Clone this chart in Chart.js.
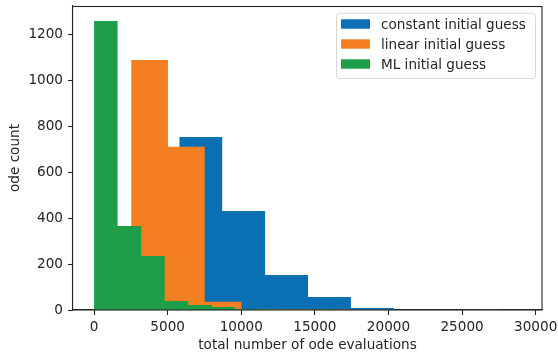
<!DOCTYPE html>
<html>
<head>
<meta charset="utf-8">
<script src="https://cdn.jsdelivr.net/npm/chart.js@4/dist/chart.umd.min.js"></script>
<style>
  html, body { margin: 0; padding: 0; background: #fff; }
  #wrap { width: 558px; height: 356px; }
</style>
</head>
<body>
<div id="wrap"><canvas id="c" width="558" height="356"></canvas></div>
<script>
// ---- data ----
const seriesLabels = ["constant initial guess", "linear initial guess", "ML initial guess"];

// bin edges (total number of ode evaluations)
const constantEdges = [5790, 8705, 11620, 14535, 17450, 20365, 23280, 26195, 29110];
const linearEdges   = [2520, 5020, 7520, 10020, 12520, 15020, 17520, 20020, 22520, 25020, 27520];
const mlEdges       = [0, 1600, 3200, 4800, 6400, 8000, 9600, 11200, 12800, 14400, 16000];

// counts per bin
const constantCounts = [752, 430, 152, 57, 9, 0, 0, 1];
const linearCounts   = [1087, 710, 36, 4, 3, 2, 1, 0, 0, 1];
const mlCounts       = [1257, 365, 235, 39, 22, 13, 4, 2, 1, 1];

const xTicks = [0, 5000, 10000, 15000, 20000, 25000, 30000];
const yTicks = [0, 200, 400, 600, 800, 1000, 1200];

const colors = ["#0b6fb4", "#f37f22", "#1e9e48"];
const FONT = "DejaVu Sans";
const FS = 13.6;
const TXT = "#262626";

function histPoints(edges, counts) {
  const pts = [{ x: edges[0], y: 0 }];
  for (let i = 0; i < counts.length; i++) pts.push({ x: edges[i + 1], y: counts[i] });
  pts.push({ x: edges[counts.length], y: 0 });
  return pts;
}

const allEdges = [constantEdges, linearEdges, mlEdges];
const allCounts = [constantCounts, linearCounts, mlCounts];

const datasets = seriesLabels.map((lab, i) => ({
  label: lab,
  data: histPoints(allEdges[i], allCounts[i]),
  stepped: 'after',
  fill: 'origin',
  backgroundColor: colors[i],
  borderColor: 'rgba(0,0,0,0)',
  borderWidth: 0,
  pointRadius: 0,
  pointHoverRadius: 0,
  tension: 0,
  order: 2 - i
}));

const framePlugin = {
  id: 'frame',
  afterDraw(chart) {
    const { ctx, chartArea: a } = chart;
    ctx.save();
    // spines
    ctx.strokeStyle = '#262626';
    ctx.lineWidth = 1.1;
    ctx.strokeRect(Math.round(a.left) - 0.5, Math.round(a.top) + 0.5,
                   Math.round(a.right - a.left) + 0.5, Math.round(a.bottom - a.top) - 0.5);
    // legend
    const bx = a.right - 206, by = a.top + 6.7, bw = 199, bh = 65.3;
    ctx.beginPath();
    if (ctx.roundRect) ctx.roundRect(bx + 0.5, by + 0.5, bw, bh, 3); else ctx.rect(bx + 0.5, by + 0.5, bw, bh);
    ctx.fillStyle = 'rgba(255,255,255,0.8)';
    ctx.fill();
    ctx.strokeStyle = '#d6d6d6';
    ctx.lineWidth = 1;
    ctx.stroke();
    ctx.font = FS + 'px "' + FONT + '"';
    ctx.textBaseline = 'alphabetic';
    ctx.textAlign = 'left';
    chart.data.datasets.forEach((ds, i) => {
      const rowY = by + 6.6 + i * 20;
      ctx.fillStyle = ds.backgroundColor;
      ctx.fillRect(bx + 5, rowY, 29, 9.4);
      ctx.fillStyle = TXT;
      ctx.fillText(ds.label, bx + 45, rowY + 10);
    });
    ctx.restore();
  }
};

new Chart(document.getElementById('c'), {
  type: 'line',
  data: { datasets },
  options: {
    responsive: false,
    animation: false,
    devicePixelRatio: 1,
    layout: { padding: { left: 0, right: 16, top: 6, bottom: 0 } },
    plugins: { legend: { display: false }, tooltip: { enabled: false } },
    scales: {
      x: {
        type: 'linear',
        min: -1430,
        max: 30430,
        afterBuildTicks: s => { s.ticks = xTicks.map(v => ({ value: v })); },
        afterFit: s => { s.height = 46; s.paddingLeft = 0; s.paddingRight = 0; },
        ticks: {
          autoSkip: false, maxRotation: 0, minRotation: 0,
          padding: 4,
          color: TXT,
          font: { family: FONT, size: FS },
          callback: v => String(v)
        },
        grid: { display: true, drawOnChartArea: false, drawTicks: true, tickLength: 5, tickColor: '#262626', tickWidth: 1.1 },
        border: { display: true, color: '#262626', width: 1.1 },
        title: {
          display: true, text: 'total number of ode evaluations',
          color: TXT, font: { family: FONT, size: FS },
          padding: { top: 0, bottom: 2.6 }
        }
      },
      y: {
        type: 'linear',
        min: 0,
        max: 1322,
        afterBuildTicks: s => { s.ticks = yTicks.map(v => ({ value: v })); },
        afterFit: s => { s.width = 73; s.paddingTop = 0; s.paddingBottom = 0; },
        ticks: {
          padding: 5,
          color: TXT,
          font: { family: FONT, size: FS },
          callback: v => String(v)
        },
        grid: { display: true, drawOnChartArea: false, drawTicks: true, tickLength: 5, tickColor: '#262626', tickWidth: 1.1 },
        border: { display: true, color: '#262626', width: 1.1 },
        title: {
          display: true, text: 'ode count',
          color: TXT, font: { family: FONT, size: FS },
          padding: { top: 7.8, bottom: 0 }
        }
      }
    }
  },
  plugins: [framePlugin]
});
</script>
</body>
</html>
